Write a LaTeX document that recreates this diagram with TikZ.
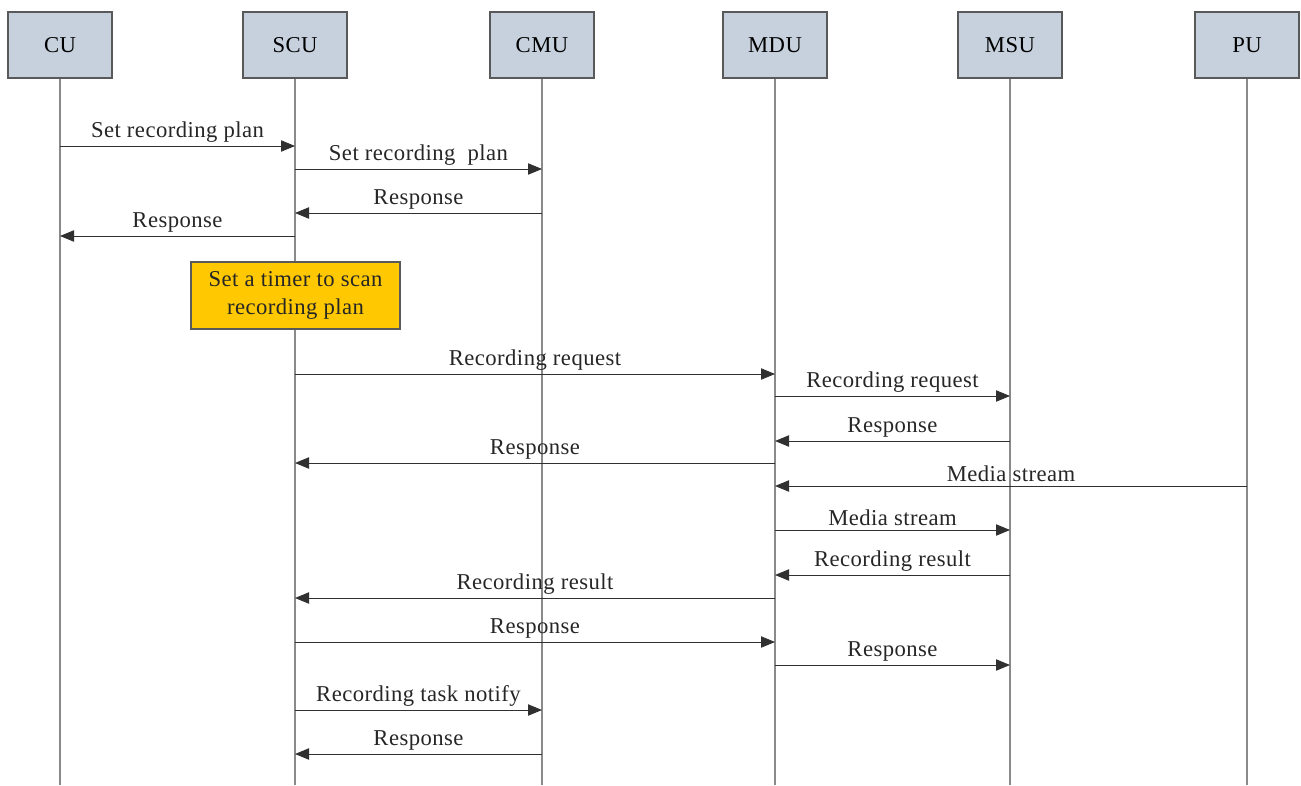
\documentclass[tikz,border=0pt]{standalone}
\usepackage{fontspec}
\setmainfont{Liberation Serif}[LetterSpace=2]
\usetikzlibrary{arrows.meta}
\definecolor{boxblue}{HTML}{C6D1DD}
\definecolor{timer}{HTML}{FFC800}
\definecolor{lifegray}{HTML}{8A8A8A}
\definecolor{linedark}{HTML}{303030}
\tikzset{
  ent/.style={draw=linedark!80, fill=boxblue, line width=0.9pt, minimum width=104*0.75pt, minimum height=66*0.75pt, inner sep=0pt, font=\fontsize{17}{20}\selectfont},
  life/.style={draw=lifegray, line width=0.8pt},
  msg/.style={draw=linedark, line width=0.7pt, -{Triangle[length=10.5pt,width=8.5pt]}},
  lbl/.style={above, inner sep=2.5pt, font=\fontsize{17}{20}\selectfont, text=black!85},
  note/.style={draw=linedark!80, fill=timer, line width=0.9pt, minimum width=209*0.75pt, minimum height=67*0.75pt, inner sep=0pt, align=center, font=\fontsize{17}{21}\selectfont, text=black!85}
}
\newcommand{\msgarrow}[5]{%
  \coordinate (#5s) at (#1 |- 0,#3);
  \coordinate (#5e) at (#2 |- 0,#3);
  \draw[msg] (#5s) -- node[lbl]{#4} (#5e);
}
\begin{document}
\begin{tikzpicture}[x=0.75pt,y=-0.75pt]
\useasboundingbox (0,0) rectangle (1301,785);
% entities
\node[ent] (cu)  at (60,45)   {CU};
\node[ent] (scu) at (295,45)  {SCU};
\node[ent] (cmu) at (542,45)  {CMU};
\node[ent] (mdu) at (775,45)  {MDU};
\node[ent] (msu) at (1010,45) {MSU};
\node[ent] (pu)  at (1247,45) {PU};
% lifeline ends
\coordinate (cuB)  at (60,785);
\coordinate (scuB) at (295,785);
\coordinate (cmuB) at (542,785);
\coordinate (mduB) at (775,785);
\coordinate (msuB) at (1010,785);
\coordinate (puB)  at (1247,785);
\draw[life] (cu.south) -- (cuB);
\draw[life] (scu.south) -- (scuB);
\draw[life] (cmu.south) -- (cmuB);
\draw[life] (mdu.south) -- (mduB);
\draw[life] (msu.south) -- (msuB);
\draw[life] (pu.south) -- (puB);
% timer note
\node[note] (tm) at (295.5,295.5) {Set a timer to scan\\recording plan};
% messages
\msgarrow{cu}{scu}{146}{Set recording plan}{m1}
\msgarrow{scu}{cmu}{169}{Set recording\ \ plan}{m2}
\msgarrow{cmu}{scu}{213}{Response}{m3}
\msgarrow{scu}{cu}{236}{Response}{m4}
\msgarrow{scu}{mdu}{374}{Recording request}{m5}
\msgarrow{mdu}{msu}{396}{Recording request}{m6}
\msgarrow{msu}{mdu}{441}{Response}{m7}
\msgarrow{mdu}{scu}{463}{Response}{m8}
\msgarrow{pu}{mdu}{486}{Media stream}{m9}
\msgarrow{mdu}{msu}{530}{Media stream}{m10}
\msgarrow{msu}{mdu}{575}{Recording result}{m11}
\msgarrow{mdu}{scu}{598}{Recording result}{m12}
\msgarrow{scu}{mdu}{642}{Response}{m13}
\msgarrow{mdu}{msu}{665}{Response}{m14}
\msgarrow{scu}{cmu}{710}{Recording task notify}{m15}
\msgarrow{cmu}{scu}{754}{Response}{m16}
\end{tikzpicture}
\end{document}
